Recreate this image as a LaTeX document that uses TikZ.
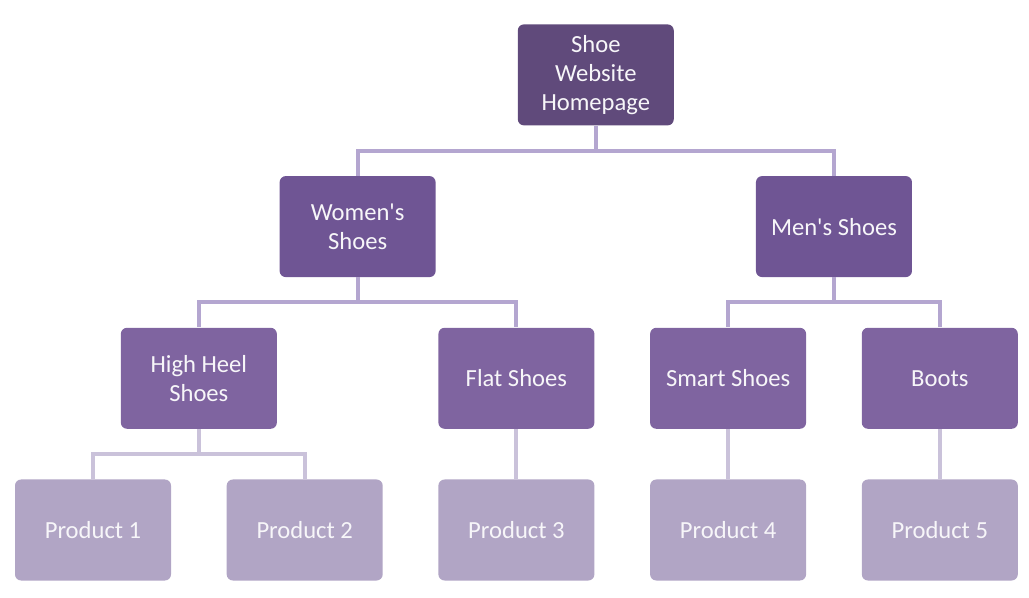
\documentclass[tikz,border=0pt]{standalone}
\usepackage{fontspec}
\setmainfont{Carlito}
\usetikzlibrary{positioning, calc}
\usepackage{xcolor}
\definecolor{plumdark}{HTML}{604A7B}
\definecolor{plummid}{HTML}{6F5594}
\definecolor{plum}{HTML}{7F64A0}
\definecolor{lilac}{HTML}{B1A5C5}
\definecolor{linklilac}{HTML}{B4A6D0}
\definecolor{linkpale}{HTML}{CAC2DA}

\begin{document}
\begin{tikzpicture}[
    node distance=1cm and 1.1cm,
    page/.style={rounded corners=3.5pt, minimum width=3.12cm, minimum height=2.02cm, inner sep=2pt,
        font=\fontsize{14}{16.5}\selectfont, align=center, text=white!94!plum},
    link/.style={line width=2.3pt, linklilac},
    plink/.style={line width=2.3pt, linkpale},
]
\useasboundingbox (0,0) rectangle (20.58,-11.96);

% Product row
\node[page, fill=lilac] (p1) at (1.86,-10.6) {Product 1};
\node[page, fill=lilac, right=of p1] (p2) {Product 2};
\node[page, fill=lilac, right=of p2] (p3) {Product 3};
\node[page, fill=lilac, right=of p3] (p4) {Product 4};
\node[page, fill=lilac, right=of p4] (p5) {Product 5};

% Shoe types
\node[page, fill=plum, above=1cm of $(p1.north)!0.5!(p2.north)$, anchor=south] (heels) {High Heel\\Shoes};
\node[page, fill=plum, above=of p3] (flat) {Flat Shoes};
\node[page, fill=plum, above=of p4] (smart) {Smart Shoes};
\node[page, fill=plum, above=of p5] (boots) {Boots};

% Categories
\node[page, fill=plummid, above=of $(heels.north)!0.5!(flat.north)$, anchor=south] (women) {Women\textquotesingle s\\Shoes};
\node[page, fill=plummid, above=of $(smart.north)!0.5!(boots.north)$, anchor=south] (men) {Men\textquotesingle s Shoes};

% Homepage
\node[page, fill=plumdark, above=of $(women.north)!0.5!(men.north)$, anchor=south] (home) {Shoe\\Website\\Homepage};

% Links
\draw[link] (home.south) -- ++(0,-0.5) -| (women.north);
\draw[link] (home.south) -- ++(0,-0.5) -| (men.north);
\draw[link] (women.south) -- ++(0,-0.5) -| (heels.north);
\draw[link] (women.south) -- ++(0,-0.5) -| (flat.north);
\draw[link] (men.south) -- ++(0,-0.5) -| (smart.north);
\draw[link] (men.south) -- ++(0,-0.5) -| (boots.north);
\draw[plink] (heels.south) -- ++(0,-0.5) -| (p1.north);
\draw[plink] (heels.south) -- ++(0,-0.5) -| (p2.north);
\draw[plink] (flat) -- (p3);
\draw[plink] (smart) -- (p4);
\draw[plink] (boots) -- (p5);

\end{tikzpicture}
\end{document}
